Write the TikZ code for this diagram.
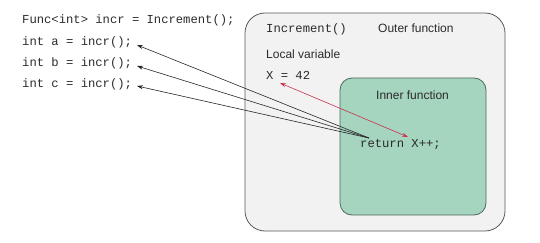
\documentclass[tikz,border=0pt]{standalone}
\usepackage{fontspec}
\setmainfont{Liberation Sans}
\setmonofont{Liberation Mono}
\usetikzlibrary{arrows.meta}
\definecolor{outerfill}{HTML}{F2F2F2}
\definecolor{outerdraw}{HTML}{5A5A5A}
\definecolor{innerfill}{HTML}{A5D4BF}
\definecolor{innerdraw}{HTML}{4E6B5C}
\definecolor{txt}{HTML}{2B2B2B}
\definecolor{redarrow}{HTML}{C8324C}
\tikzset{
  code/.style={font=\ttfamily\fontsize{12.2}{14}\selectfont, text=txt, inner sep=0pt, anchor=west},
  label/.style={font=\fontsize{12}{14}\selectfont, text=txt, inner sep=0pt},
  callarrow/.style={draw=black!85, line width=0.6pt, -{Stealth[length=6pt,width=4pt]}},
  linkarrow/.style={draw=redarrow, line width=0.6pt, {Stealth[length=6pt,width=4pt]}-{Stealth[length=6pt,width=4pt]}}
}
\begin{document}
\begin{tikzpicture}[x=1pt,y=-1pt]
\useasboundingbox (0,0) rectangle (540,243);
% outer function box
\draw[fill=outerfill, draw=outerdraw, line width=0.8pt, rounded corners=20pt] (245,13) rectangle (505,231);
% inner function box
\draw[fill=innerfill, draw=innerdraw, line width=0.8pt, rounded corners=12pt] (340,78) rectangle (486,215);
% left code
\node[code] (f) at (22,20) {Func<int> incr = Increment();};
\node[code] (a) at (22,42) {int a = incr();};
\node[code] (b) at (22,63) {int b = incr();};
\node[code] (c) at (22,84) {int c = incr();};
% outer labels
\node[code] (inc) at (266,29) {Increment()};
\node[label, anchor=west] (outer) at (378,28) {Outer function};
\node[label, anchor=west] (local) at (266,54) {Local variable};
\node[code] (x) at (266,75) {X = 42};
\node[label, anchor=west] (inner) at (376,95) {Inner function};
\node[code] (ret) at (360,145) {return X++;};
% connectors
\coordinate (src) at (369,138);
\coordinate (ta) at (137,45);
\coordinate (tb) at (137,66);
\coordinate (tc) at (137,86);
\draw[callarrow] (src) -- (ta);
\draw[callarrow] (src) -- (tb);
\draw[callarrow] (src) -- (tc);
\coordinate (xa) at (280,83);
\coordinate (ra) at (408,137);
\draw[linkarrow] (xa) -- (ra);
\end{tikzpicture}
\end{document}
